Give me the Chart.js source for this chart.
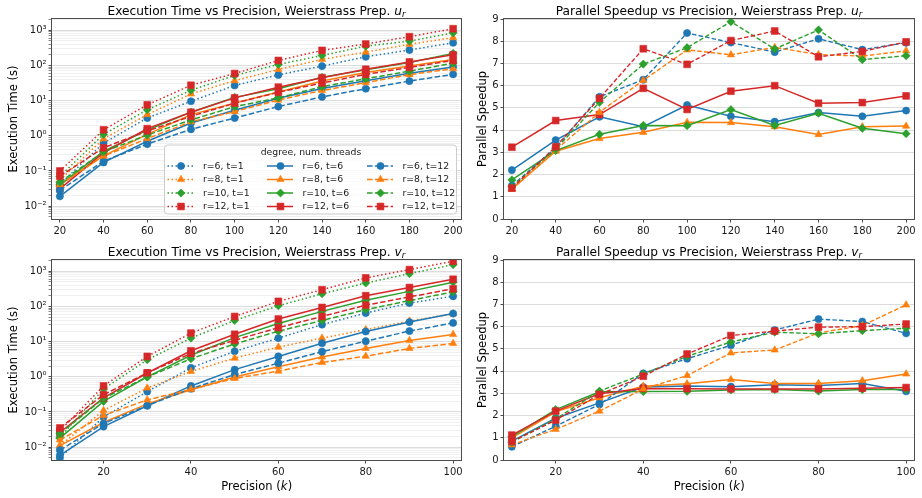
<!DOCTYPE html>
<html><head><meta charset="utf-8">
<script src="https://cdn.jsdelivr.net/npm/chart.js@4.4.1/dist/chart.umd.min.js"></script>
<style>
html,body{margin:0;padding:0;background:#fff;}
#wrap{position:relative;width:922px;height:498px;overflow:hidden;background:#fff;}
canvas{position:absolute;}
</style></head><body>
<div id="wrap">
<canvas id="tl" width="475" height="249" style="left:0;top:0;width:475px;height:249px"></canvas>
<canvas id="tr" width="461" height="249" style="left:461px;top:0;width:461px;height:249px"></canvas>
<canvas id="bl" width="475" height="262" style="left:0;top:236px;width:475px;height:262px"></canvas>
<canvas id="br" width="461" height="262" style="left:461px;top:236px;width:461px;height:262px"></canvas>
</div>
<script>
// ---------------- data ----------------
const precU = [20, 40, 60, 80, 100, 120, 140, 160, 180, 200];
const precV = [10, 20, 30, 40, 50, 60, 70, 80, 90, 100];
const xTicksU = [20, 40, 60, 80, 100, 120, 140, 160, 180, 200];
const xTickLabelsU = ['20', '40', '60', '80', '100', '120', '140', '160', '180', '200'];
const xTicksV = [20, 40, 60, 80, 100];
const xTickLabelsV = ['20', '40', '60', '80', '100'];
const logMajorTicks = [0.001, 0.01, 0.1, 1, 10, 100, 1000];
const logTickLabels = ['10⁻³', '10⁻²', '10⁻¹', '10⁰', '10¹', '10²', '10³'];
const speedTicks = [0, 1, 2, 3, 4, 5, 6, 7, 8, 9];
const degrees = [6, 8, 10, 12];
const threads = [1, 6, 12];

// Execution time, Weierstrass prep. u_r
const timeU_r6_t1 = [0.042, 0.62, 3.2, 9.6, 27, 54, 96, 177, 275, 443];
const timeU_r6_t6 = [0.019, 0.175, 0.70, 2.3, 5.3, 11.7, 22, 37, 60, 91];
const timeU_r6_t12 = [0.028, 0.19, 0.58, 1.53, 3.2, 6.8, 12.8, 21.8, 36, 56];
const timeU_r8_t1 = [0.055, 0.82, 4.0, 15.5, 37, 77, 149, 240, 400, 617];
const timeU_r8_t6 = [0.041, 0.27, 1.1, 4.0, 8.5, 17.7, 36, 63, 96, 148];
const timeU_r8_t12 = [0.041, 0.265, 0.83, 2.5, 4.9, 10.4, 19.4, 32.4, 55, 81];
const timeU_r10_t1 = [0.07, 1.1, 5.5, 19.7, 52, 107, 193, 355, 495, 850];
const timeU_r10_t6 = [0.04, 0.36, 1.45, 4.7, 12.4, 21.8, 46, 75, 121, 221];
const timeU_r10_t12 = [0.048, 0.35, 1.05, 2.83, 6.75, 12, 25, 41.8, 69, 116];
const timeU_r12_t1 = [0.10, 1.48, 7.6, 27.4, 59, 139, 269, 407, 660, 1110];
const timeU_r12_t6 = [0.031, 0.33, 1.6, 4.67, 12, 24.2, 45, 78, 126, 201];
const timeU_r12_t12 = [0.071, 0.455, 1.38, 3.58, 8.5, 17.3, 31.8, 55.8, 88, 139];

// Execution time, Weierstrass prep. v_r
const timeV_r6_t1 = [0.0049, 0.072, 0.38, 1.8, 5.3, 12.6, 30.5, 65, 125, 195];
const timeV_r6_t6 = [0.0058, 0.0385, 0.15, 0.55, 1.6, 3.8, 9.0, 19.4, 36, 63];
const timeV_r6_t12 = [0.0082, 0.047, 0.152, 0.46, 1.16, 2.44, 5.2, 10.3, 20, 34];
const timeV_r8_t1 = [0.011, 0.11, 0.48, 1.42, 3.4, 7.0, 12.6, 22, 38.6, 62];
const timeV_r8_t6 = [0.011, 0.05, 0.17, 0.43, 0.99, 1.93, 3.66, 6.4, 10.8, 16];
const timeV_r8_t12 = [0.016, 0.08, 0.22, 0.44, 0.9, 1.45, 2.55, 3.85, 6.4, 8.9];
const timeV_r10_t1 = [0.019, 0.45, 3.05, 12.6, 40, 105, 230, 465, 860, 1550];
const timeV_r10_t6 = [0.018, 0.20, 0.99, 4.1, 13, 33, 72.6, 150, 269, 490];
const timeV_r10_t12 = [0.024, 0.245, 0.99, 3.26, 8.6, 19.8, 40, 81, 147, 260];
const timeV_r12_t1 = [0.029, 0.55, 3.8, 17.5, 52, 140, 300, 650, 1120, 1940];
const timeV_r12_t6 = [0.026, 0.25, 1.28, 5.5, 16.2, 44, 94, 203, 347, 595];
const timeV_r12_t12 = [0.035, 0.31, 1.29, 4.6, 10.9, 25, 52, 109, 187, 318];

// Parallel speedup, u_r
const speedU_r6_t6 = [2.2, 3.55, 4.6, 4.15, 5.13, 4.62, 4.38, 4.79, 4.62, 4.88];
const speedU_r6_t12 = [1.5, 3.2, 5.5, 6.27, 8.37, 7.94, 7.51, 8.11, 7.62, 7.93];
const speedU_r8_t6 = [1.35, 3.05, 3.62, 3.9, 4.35, 4.34, 4.15, 3.8, 4.15, 4.18];
const speedU_r8_t12 = [1.33, 3.1, 4.8, 6.24, 7.61, 7.39, 7.72, 7.4, 7.33, 7.57];
const speedU_r10_t6 = [1.76, 3.08, 3.81, 4.21, 4.2, 4.92, 4.21, 4.76, 4.08, 3.84];
const speedU_r10_t12 = [1.45, 3.15, 5.25, 6.97, 7.71, 8.88, 7.65, 8.51, 7.17, 7.35];
const speedU_r12_t6 = [3.23, 4.43, 4.7, 5.88, 4.93, 5.75, 6.0, 5.21, 5.24, 5.54];
const speedU_r12_t12 = [1.39, 3.25, 5.43, 7.66, 6.96, 8.03, 8.46, 7.3, 7.54, 7.97];

// Parallel speedup, v_r
const speedV_r6_t6 = [0.85, 1.88, 2.57, 3.28, 3.33, 3.3, 3.39, 3.35, 3.44, 3.09];
const speedV_r6_t12 = [0.6, 1.52, 2.5, 3.9, 4.56, 5.16, 5.85, 6.34, 6.23, 5.7];
const speedV_r8_t6 = [1.0, 2.17, 2.8, 3.32, 3.43, 3.62, 3.44, 3.44, 3.57, 3.87];
const speedV_r8_t12 = [0.68, 1.38, 2.2, 3.2, 3.8, 4.82, 4.95, 5.72, 6.05, 6.98];
const speedV_r10_t6 = [1.05, 2.27, 3.07, 3.08, 3.09, 3.15, 3.17, 3.1, 3.17, 3.17];
const speedV_r10_t12 = [0.8, 1.85, 3.1, 3.87, 4.67, 5.31, 5.75, 5.68, 5.82, 5.93];
const speedV_r12_t6 = [1.12, 2.2, 2.98, 3.22, 3.21, 3.2, 3.2, 3.2, 3.23, 3.26];
const speedV_r12_t12 = [0.83, 1.79, 2.95, 3.77, 4.77, 5.6, 5.8, 5.98, 6.0, 6.12];

// ---------------- tables built from the arrays ----------------
const timeUTable = [[timeU_r6_t1, timeU_r6_t6, timeU_r6_t12], [timeU_r8_t1, timeU_r8_t6, timeU_r8_t12],
  [timeU_r10_t1, timeU_r10_t6, timeU_r10_t12], [timeU_r12_t1, timeU_r12_t6, timeU_r12_t12]];
const timeVTable = [[timeV_r6_t1, timeV_r6_t6, timeV_r6_t12], [timeV_r8_t1, timeV_r8_t6, timeV_r8_t12],
  [timeV_r10_t1, timeV_r10_t6, timeV_r10_t12], [timeV_r12_t1, timeV_r12_t6, timeV_r12_t12]];
const speedUTable = [[null, speedU_r6_t6, speedU_r6_t12], [null, speedU_r8_t6, speedU_r8_t12],
  [null, speedU_r10_t6, speedU_r10_t12], [null, speedU_r12_t6, speedU_r12_t12]];
const speedVTable = [[null, speedV_r6_t6, speedV_r6_t12], [null, speedV_r8_t6, speedV_r8_t12],
  [null, speedV_r10_t6, speedV_r10_t12], [null, speedV_r12_t6, speedV_r12_t12]];

// ---------------- styles ----------------
const FONT = '"DejaVu Sans", sans-serif';
const COLORS = ['#1f77b4', '#ff7f0e', '#2ca02c', '#d62728'];
const MARKERS = ['circle', 'triangle', 'rectRot', 'rect'];
const MRAD = [3.6, 4.2, 4.1, 4.8];
const FRAME = '#4d4d4d';
const TEXT = '#1a1a1a';
const GRID_MAJOR = '#dcdcdc';
const GRID_MINOR = '#f0f0f0';
const LOG_MIN = 0.0043, LOG_MAX = 2100;

function lineStyle(ti, speed) {
  if (ti === 0) return { borderWidth: 1.5, borderDash: [1.5, 2.5] };
  if (ti === 1) return { borderWidth: 1.5, borderDash: [] };
  return speed ? { borderWidth: 1.4, borderDash: [4.5, 2.2] } : { borderWidth: 1.5, borderDash: [5.5, 2.4] };
}

function buildDatasets(xs, table, tIdx, speed) {
  const out = [];
  for (const ti of tIdx) {
    for (let ri = 0; ri < degrees.length; ri++) {
      const ys = table[ri][ti];
      const ls = lineStyle(ti, speed);
      out.push({
        label: 'r=' + degrees[ri] + ', t=' + threads[ti],
        data: xs.map((x, i) => ({ x: x, y: ys[i] })),
        borderColor: COLORS[ri], backgroundColor: COLORS[ri],
        pointBackgroundColor: COLORS[ri], pointBorderColor: COLORS[ri], pointBorderWidth: 0.6,
        pointStyle: MARKERS[ri], pointRadius: MRAD[ri], pointHoverRadius: MRAD[ri],
        borderWidth: ls.borderWidth, borderDash: ls.borderDash, tension: 0, fill: false
      });
    }
  }
  return out.reverse(); // later matplotlib series on top
}

function xScale(ticksArr, labelsArr, min, max, h) {
  return {
    type: 'linear', min: min, max: max,
    afterBuildTicks: s => { s.ticks = ticksArr.map(v => ({ value: v })); },
    afterFit: s => { s.height = h; },
    grid: { drawOnChartArea: false, drawTicks: true, tickLength: 3.5, tickColor: FRAME, tickWidth: 1 },
    border: { display: false },
    ticks: { font: { family: FONT, size: 10 }, color: TEXT, padding: 2.5, maxRotation: 0, autoSkip: false,
      callback: v => { const j = ticksArr.indexOf(v); return j >= 0 ? labelsArr[j] : ''; } }
  };
}

function logY(w) {
  return {
    type: 'logarithmic', min: LOG_MIN, max: LOG_MAX,
    afterBuildTicks: s => {
      const t = [];
      for (const m of logMajorTicks) for (let k = 1; k <= 9; k++) {
        const v = m * k;
        if (v >= LOG_MIN && v <= LOG_MAX) t.push({ value: v, major: k === 1 });
      }
      t.sort((a, b) => a.value - b.value);
      s.ticks = t;
    },
    afterFit: s => { s.width = w; },
    grid: { color: c => (c.tick && c.tick.major) ? GRID_MAJOR : GRID_MINOR, lineWidth: 1,
      tickColor: c => (c.tick && c.tick.major) ? FRAME : '#8a8a8a', tickLength: 3.5, drawTicks: true },
    border: { display: false },
    ticks: { font: { family: FONT, size: 10 }, color: TEXT, padding: 2, autoSkip: false,
      callback: v => { const j = logMajorTicks.findIndex(m => Math.abs(m - v) / m < 1e-6); return j >= 0 ? logTickLabels[j] : ''; } }
  };
}

function speedY(w) {
  return {
    type: 'linear', min: 0, max: 9,
    afterBuildTicks: s => { s.ticks = speedTicks.map(v => ({ value: v })); },
    afterFit: s => { s.width = w; },
    grid: { color: GRID_MAJOR, lineWidth: 1, tickColor: FRAME, tickLength: 3.5, drawTicks: true },
    border: { display: false },
    ticks: { font: { family: FONT, size: 10 }, color: TEXT, padding: 2, autoSkip: false,
      callback: v => String(v) }
  };
}

// --------------- decoration plugin (titles, frame, legend) ---------------
// parts: [normal text, italic symbol, italic subscript, trailing normal text]
function drawMathText(ctx, parts, cx, base, size) {
  const main = parts[0], sym = parts[1], sub = parts[2] || '', tail = parts[3] || '';
  const ss = size * 0.7;
  ctx.font = size + 'px ' + FONT; const w1 = ctx.measureText(main).width; const w4 = ctx.measureText(tail).width;
  ctx.font = 'italic ' + size + 'px ' + FONT; const w2 = ctx.measureText(sym).width;
  ctx.font = 'italic ' + ss + 'px ' + FONT; const w3 = sub ? ctx.measureText(sub).width : 0;
  const total = w1 + w2 + w3 + w4;
  let x = cx - total / 2;
  ctx.textAlign = 'left'; ctx.textBaseline = 'alphabetic';
  ctx.font = size + 'px ' + FONT; ctx.fillText(main, x, base); x += w1;
  ctx.font = 'italic ' + size + 'px ' + FONT; ctx.fillText(sym, x, base); x += w2;
  if (sub) { ctx.font = 'italic ' + ss + 'px ' + FONT; ctx.fillText(sub, x, base + size * 0.2); x += w3; }
  if (tail) { ctx.font = size + 'px ' + FONT; ctx.fillText(tail, x + 0.5, base); }
}

const decor = {
  id: 'decor',
  afterDraw(chart, args, o) {
    const ctx = chart.ctx, a = chart.chartArea;
    ctx.save();
    // frame (spines)
    ctx.strokeStyle = FRAME; ctx.lineWidth = 1;
    ctx.strokeRect(Math.round(a.left) - 0.5, Math.round(a.top) - 0.5,
      Math.round(a.right) - Math.round(a.left) + 1, Math.round(a.bottom) - Math.round(a.top) + 1);
    ctx.fillStyle = '#000';
    const cx = (a.left + a.right) / 2, cy = (a.top + a.bottom) / 2;
    drawMathText(ctx, o.title, cx, o.titleBase, 12.2);
    if (o.xlabel) drawMathText(ctx, o.xlabel, cx, o.xlabelBase, 11.5);
    ctx.save();
    ctx.translate(o.ylabelX, cy); ctx.rotate(-Math.PI / 2);
    ctx.font = '11.5px ' + FONT; ctx.textAlign = 'center'; ctx.textBaseline = 'alphabetic';
    ctx.fillText(o.ylabel, 0, 0);
    ctx.restore();
    if (o.legend) drawLegend(ctx);
    ctx.restore();
  }
};

function drawLegend(ctx) {
  const box = { l: 164.5, t: 145, r: 456.5, b: 214 };
  ctx.save();
  ctx.beginPath();
  if (ctx.roundRect) ctx.roundRect(box.l, box.t, box.r - box.l, box.b - box.t, 3);
  else ctx.rect(box.l, box.t, box.r - box.l, box.b - box.t);
  ctx.fillStyle = 'rgba(255,255,255,0.8)'; ctx.fill();
  ctx.strokeStyle = '#cccccc'; ctx.lineWidth = 1; ctx.stroke();
  ctx.fillStyle = TEXT; ctx.font = '9.3px ' + FONT; ctx.textAlign = 'center'; ctx.textBaseline = 'middle';
  ctx.fillText('degree, num. threads', 311, 152.5);
  const colX = [167.5, 267, 367];
  const rowY = [166, 179.5, 193, 206.5];
  ctx.textAlign = 'left';
  for (let ti = 0; ti < threads.length; ti++) {
    for (let ri = 0; ri < degrees.length; ri++) {
      const x0 = colX[ti], y = rowY[ri];
      const ls = lineStyle(ti, false);
      ctx.strokeStyle = COLORS[ri]; ctx.fillStyle = COLORS[ri];
      ctx.lineWidth = ls.borderWidth; ctx.setLineDash(ls.borderDash);
      ctx.beginPath(); ctx.moveTo(x0, y); ctx.lineTo(x0 + 26, y); ctx.stroke();
      ctx.setLineDash([]);
      ctx.lineWidth = 0.6;
      Chart.helpers.drawPoint(ctx, { pointStyle: MARKERS[ri], radius: MRAD[ri], rotation: 0, borderWidth: 0.6 }, x0 + 13.5, y);
      ctx.fillStyle = TEXT; ctx.font = '9.3px ' + FONT; ctx.textBaseline = 'middle';
      ctx.fillText('r=' + degrees[ri] + ', t=' + threads[ti], x0 + 35.5, y + 0.5);
    }
  }
  ctx.restore();
}

Chart.register(decor);

function makeChart(id, datasets, xs, ys, pad, deco) {
  return new Chart(document.getElementById(id), {
    type: 'line',
    data: { datasets: datasets },
    options: {
      responsive: false, animation: false, devicePixelRatio: 1,
      layout: { padding: pad },
      scales: { x: xs, y: ys },
      plugins: { legend: { display: false }, tooltip: { enabled: false }, title: { display: false }, decor: deco },
      elements: { line: { tension: 0 } }
    }
  });
}

const U_XMIN = 16.4, U_XMAX = 203.6, V_XMIN = 8.2, V_XMAX = 101.8;

makeChart('tl', buildDatasets(precU, timeUTable, [0, 1, 2], false),
  xScale(xTicksU, xTickLabelsU, U_XMIN, U_XMAX, 30), logY(52),
  { top: 19, right: 14, bottom: 0, left: 0 },
  { title: ['Execution Time vs Precision, Weierstrass Prep. ', 'u', 'r'], titleBase: 14.5, ylabel: 'Execution Time (s)', ylabelX: 17, legend: true });

makeChart('tr', buildDatasets(precU, speedUTable, [1, 2], true),
  xScale(xTicksU, xTickLabelsU, U_XMIN, U_XMAX, 30), speedY(43),
  { top: 19, right: 8, bottom: 0, left: 0 },
  { title: ['Parallel Speedup vs Precision, Weierstrass Prep. ', 'u', 'r'], titleBase: 14.5, ylabel: 'Parallel Speedup', ylabelX: 24.8 });

makeChart('bl', buildDatasets(precV, timeVTable, [0, 1, 2], false),
  xScale(xTicksV, xTickLabelsV, V_XMIN, V_XMAX, 38), logY(52),
  { top: 24, right: 14, bottom: 0, left: 0 },
  { title: ['Execution Time vs Precision, Weierstrass Prep. ', 'v', 'r'], titleBase: 19.5, ylabel: 'Execution Time (s)', ylabelX: 17,
    xlabel: ['Precision (', 'k', '', ')'], xlabelBase: 253.5 });

makeChart('br', buildDatasets(precV, speedVTable, [1, 2], true),
  xScale(xTicksV, xTickLabelsV, V_XMIN, V_XMAX, 38), speedY(43),
  { top: 24, right: 8, bottom: 0, left: 0 },
  { title: ['Parallel Speedup vs Precision, Weierstrass Prep. ', 'v', 'r'], titleBase: 19.5, ylabel: 'Parallel Speedup', ylabelX: 24.8,
    xlabel: ['Precision (', 'k', '', ')'], xlabelBase: 253.5 });
</script>
</body></html>
